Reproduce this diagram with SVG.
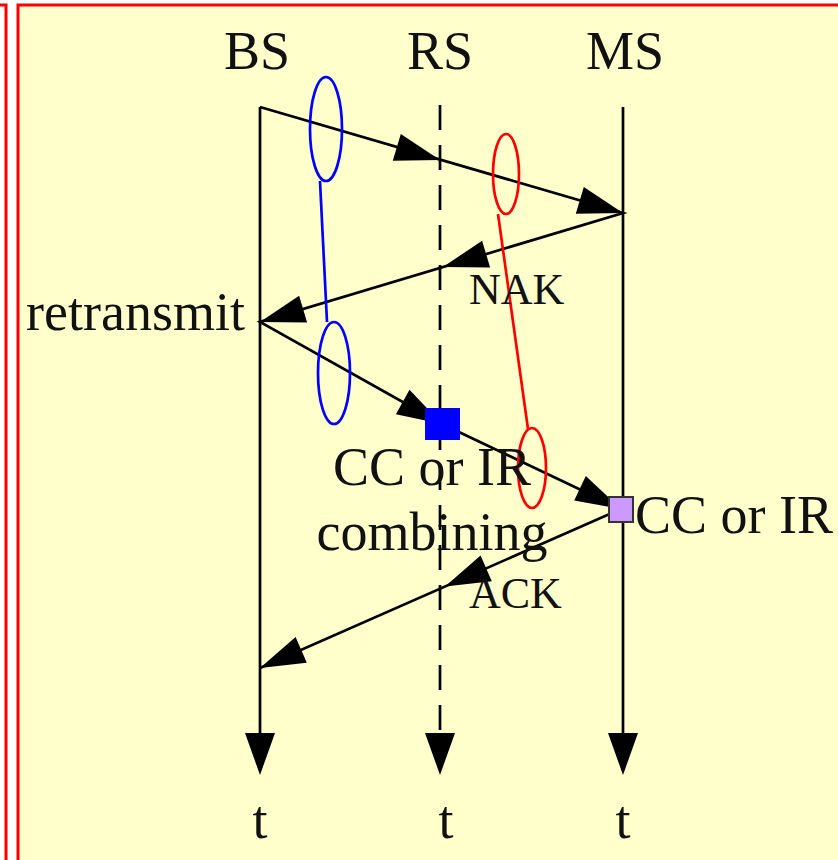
<svg xmlns="http://www.w3.org/2000/svg" width="838" height="860" viewBox="0 0 838 860">
<style>
.frame{fill:none;stroke:#ff0000;stroke-width:3}
.lbl{font-family:"Liberation Serif","Times New Roman",serif;font-size:54px;fill:#111}
.sm{font-family:"Liberation Serif","Times New Roman",serif;font-size:44px;fill:#111}
.ln{stroke:#000;stroke-width:2.7;fill:none}
.ah{fill:#000;stroke:none}
.blue{stroke:#0000ff;stroke-width:2.7;fill:none}
.red{stroke:#ff0000;stroke-width:2.7;fill:none}
</style>
<rect x="0" y="0" width="838" height="860" fill="#ffffff"/>
<path class="frame" d="M0 5 H6 V860"/>
<rect x="18" y="5" width="900" height="900" fill="#ffffcc" stroke="#ff0000" stroke-width="3"/>

<g id="BS">
<text class="lbl" x="257" y="69" text-anchor="middle">BS</text>
<line class="ln" x1="260" y1="107" x2="260" y2="740"/>
<polygon class="ah" points="245,733 275,733 260,775"/>
<text class="lbl" x="260" y="838" text-anchor="middle">t</text>
</g>
<g id="RS">
<text class="lbl" x="440" y="69" text-anchor="middle">RS</text>
<line class="ln" x1="440" y1="105" x2="440" y2="735" stroke-dasharray="25 15"/>
<polygon class="ah" points="425,733 455,733 440,775"/>
<text class="lbl" x="446" y="838" text-anchor="middle">t</text>
</g>
<g id="MS">
<text class="lbl" x="625" y="69" text-anchor="middle">MS</text>
<line class="ln" x1="623" y1="107" x2="623" y2="740"/>
<polygon class="ah" points="608,733 638,733 623,775"/>
<text class="lbl" x="623" y="838" text-anchor="middle">t</text>
</g>

<g id="connectors">
<polyline class="ln" points="260,107 623,213 260,322 442,424 621,509 260,668"/>
<polygon class="ah" points="440,160 392.8,160.7 400.8,133.9"/>
<polygon class="ah" points="623,213 575.8,213.7 583.8,186.9"/>
<polygon class="ah" points="443,267 482.1,240.7 490.1,267.5"/>
<polygon class="ah" points="260,322 299.1,295.7 307.1,322.5"/>
<polygon class="ah" points="442,424 395.9,414.2 409.5,389.8"/>
<polygon class="ah" points="621,509 574.2,500.4 585.8,476.1"/>
<polygon class="ah" points="445,586.5 480.6,555.6 491.8,581.2"/>
<polygon class="ah" points="260,668 295.6,637.1 306.8,662.7"/>
</g>

<g id="blue-group">
<ellipse class="blue" cx="326" cy="129" rx="16" ry="52"/>
<line class="blue" x1="320" y1="181" x2="327" y2="322"/>
<ellipse class="blue" cx="334" cy="373" rx="16" ry="51"/>
</g>
<g id="red-group">
<ellipse class="red" cx="506" cy="174" rx="13" ry="40"/>
<line class="red" x1="498" y1="214" x2="528" y2="429"/>
<ellipse class="red" cx="532" cy="468" rx="14" ry="40"/>
</g>

<g id="rs-combine">
<rect x="425" y="408" width="35" height="32" fill="#0000ff"/>
<text class="lbl" x="432" y="485" text-anchor="middle">CC or IR</text>
<text class="lbl" x="432" y="550" text-anchor="middle">combining</text>
</g>
<g id="ms-combine">
<rect x="609" y="497" width="24" height="25" fill="#cc99ff" stroke="#333" stroke-width="2"/>
<text class="lbl" x="635" y="533">CC or IR</text>
</g>

<text class="lbl" x="245" y="330" text-anchor="end">retransmit</text>
<text class="sm" x="469" y="304">NAK</text>
<text class="sm" x="469" y="608">ACK</text>
</svg>
